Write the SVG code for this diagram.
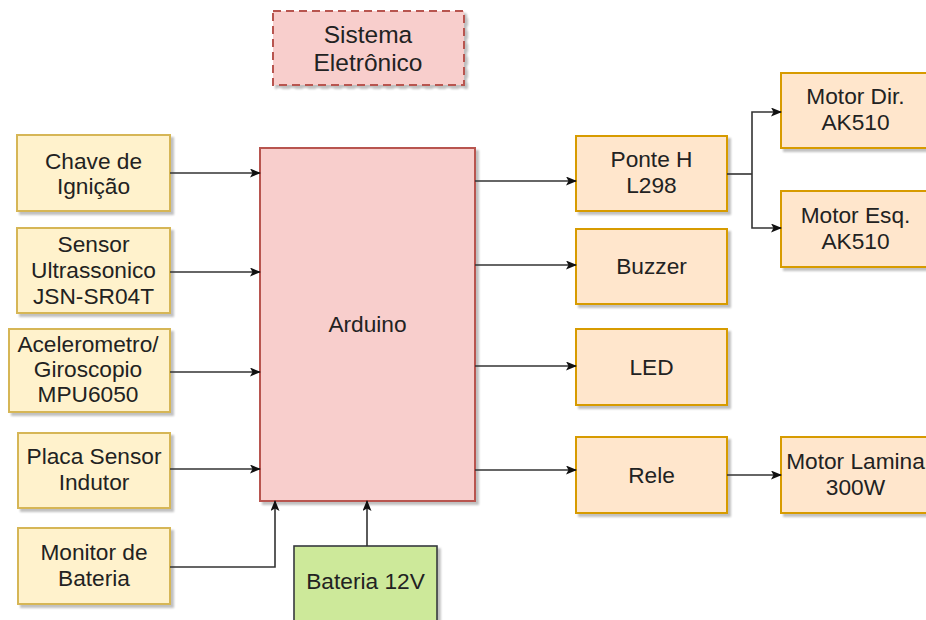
<svg xmlns="http://www.w3.org/2000/svg" width="926" height="620" viewBox="0 0 926 620">
<defs>
<style>
.t{font-family:"Liberation Sans",Arial,sans-serif;font-size:22.7px;fill:#222;text-anchor:middle}
.big{font-size:24.5px}
.in{fill:#fff2cc;stroke:#d6b656;stroke-width:2}
.out{fill:#ffe6cc;stroke:#d79b00;stroke-width:2}
.c{fill:none;stroke:#333;stroke-width:1.6;marker-end:url(#ah)}
.cn{fill:none;stroke:#333;stroke-width:1.6}
</style>
<filter id="sh" x="-10%" y="-10%" width="130%" height="130%">
<feGaussianBlur in="SourceAlpha" stdDeviation="1.2"/>
<feOffset dx="3" dy="3" result="o"/>
<feComponentTransfer><feFuncA type="linear" slope="0.25"/></feComponentTransfer>
<feMerge><feMergeNode/><feMergeNode in="SourceGraphic"/></feMerge>
</filter>
<marker id="ah" markerWidth="11" markerHeight="9" refX="10" refY="4.5" orient="auto" markerUnits="userSpaceOnUse">
<path d="M0,0 L11,4.5 L0,9 L2.5,4.5 Z" fill="#111"/>
</marker>
</defs>
<rect width="926" height="620" fill="#fff"/>

<g id="sistema">
<rect x="273" y="11" width="191" height="74" fill="#f8cecc" stroke="#b85450" stroke-width="2" stroke-dasharray="8 5" filter="url(#sh)"/>
<text class="t big" x="368" y="42.5">Sistema</text>
<text class="t big" x="368" y="71">Eletrônico</text>
</g>

<g id="chave">
<rect class="in" x="17" y="135" width="153" height="76" filter="url(#sh)"/>
<text class="t" x="93.5" y="169">Chave de</text>
<text class="t" x="93.5" y="194">Ignição</text>
</g>
<g id="sensor">
<rect class="in" x="17" y="228" width="153" height="85" filter="url(#sh)"/>
<text class="t" x="93.5" y="252">Sensor</text>
<text class="t" x="93.5" y="278">Ultrassonico</text>
<text class="t" x="93.5" y="304">JSN-SR04T</text>
</g>
<g id="acelerometro">
<rect class="in" x="9" y="329" width="161" height="83" filter="url(#sh)"/>
<text class="t" x="88" y="352">Acelerometro/</text>
<text class="t" x="88" y="377">Giroscopio</text>
<text class="t" x="88" y="402">MPU6050</text>
</g>
<g id="placa">
<rect class="in" x="18" y="433" width="152" height="75" filter="url(#sh)"/>
<text class="t" x="94" y="464">Placa Sensor</text>
<text class="t" x="94" y="490">Indutor</text>
</g>
<g id="monitor">
<rect class="in" x="18" y="528" width="152" height="76" filter="url(#sh)"/>
<text class="t" x="94" y="560">Monitor de</text>
<text class="t" x="94" y="586">Bateria</text>
</g>

<g id="arduino">
<rect x="260" y="148" width="215" height="353" fill="#f8cecc" stroke="#b85450" stroke-width="2" filter="url(#sh)"/>
<text class="t" x="367.5" y="332">Arduino</text>
</g>

<g id="bateria">
<rect x="294" y="546" width="143" height="90" fill="#cde99a" stroke="#36393d" stroke-width="1.6" filter="url(#sh)"/>
<text class="t" x="365.5" y="589">Bateria 12V</text>
</g>

<g id="ponteh">
<rect class="out" x="576" y="136" width="151" height="75" filter="url(#sh)"/>
<text class="t" x="651.5" y="167">Ponte H</text>
<text class="t" x="651.5" y="193">L298</text>
</g>
<g id="buzzer">
<rect class="out" x="576" y="229" width="151" height="75" filter="url(#sh)"/>
<text class="t" x="651.5" y="274">Buzzer</text>
</g>
<g id="led">
<rect class="out" x="576" y="329" width="151" height="76" filter="url(#sh)"/>
<text class="t" x="651.5" y="375">LED</text>
</g>
<g id="rele">
<rect class="out" x="576" y="437" width="151" height="76" filter="url(#sh)"/>
<text class="t" x="651.5" y="483">Rele</text>
</g>
<g id="motordir">
<rect class="out" x="781" y="73" width="151" height="75" filter="url(#sh)"/>
<text class="t" x="855.5" y="104">Motor Dir.</text>
<text class="t" x="855.5" y="130">AK510</text>
</g>
<g id="motoresq">
<rect class="out" x="781" y="191" width="151" height="76" filter="url(#sh)"/>
<text class="t" x="855.5" y="223">Motor Esq.</text>
<text class="t" x="855.5" y="249">AK510</text>
</g>
<g id="motorlamina">
<rect class="out" x="781" y="437" width="151" height="76" filter="url(#sh)"/>
<text class="t" x="855.5" y="469">Motor Lamina</text>
<text class="t" x="855.5" y="495">300W</text>
</g>

<g id="connectors">
<path class="c" d="M170,173 H260"/>
<path class="c" d="M170,272 H260"/>
<path class="c" d="M170,372 H260"/>
<path class="c" d="M170,469 H260"/>
<path class="c" d="M170,567 H275 V501"/>
<path class="c" d="M367,546 V501"/>
<path class="c" d="M475,181 H576"/>
<path class="c" d="M475,265 H576"/>
<path class="c" d="M475,366 H576"/>
<path class="c" d="M475,470 H576"/>
<path class="cn" d="M727,174 H752"/>
<path class="c" d="M752,174 V112 H781"/>
<path class="c" d="M752,174 V228 H781"/>
<path class="c" d="M727,475 H781"/>
</g>
</svg>
